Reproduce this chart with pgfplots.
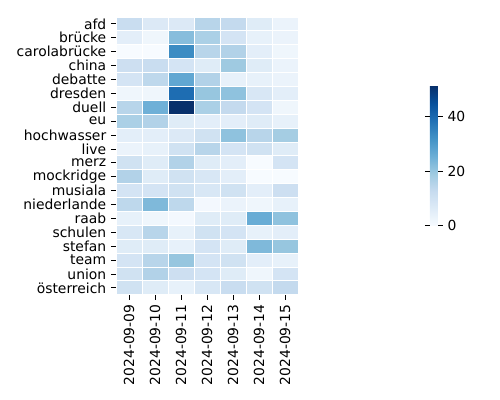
\documentclass[border=0pt]{standalone}
\usepackage{pgfplots}
\usepackage{pgfplotstable}
\pgfplotsset{compat=1.18}
\usepackage{fontspec}
\setmainfont{DejaVu Sans}
\pgfplotsset{
  colormap={blues}{rgb255=(247,251,255) rgb255=(222,235,247) rgb255=(198,219,239) rgb255=(158,202,225) rgb255=(107,174,214) rgb255=(66,146,198) rgb255=(33,113,181) rgb255=(8,81,156) rgb255=(8,48,107)}
}
\pgfplotstableread{
x y c
0 0 12
1 0 7
2 0 7
3 0 15
4 0 13
5 0 6
6 0 3
0 1 5
1 1 2
2 1 22
3 1 17
4 1 9
5 1 4
6 1 3
0 2 0
1 2 0
2 2 33
3 2 15
4 2 16
5 2 5
6 2 2
0 3 11
1 3 12
2 3 9
3 3 6
4 3 19
5 3 6
6 3 3
0 4 9
1 4 14
2 4 27
3 4 16
4 4 4
5 4 4
6 4 3
0 5 2
1 5 2
2 5 39
3 5 20
4 5 21
5 5 8
6 5 5
0 6 15
1 6 25
2 6 51
3 6 17
4 6 13
5 6 9
6 6 2
0 7 17
1 7 16
2 7 6
3 7 5
4 7 5
5 7 6
6 7 4
0 8 5
1 8 5
2 8 7
3 8 10
4 8 21
5 8 15
6 8 18
0 9 3
1 9 4
2 9 10
3 9 15
4 9 9
5 9 10
6 9 6
0 10 10
1 10 6
2 10 16
3 10 6
4 10 5
5 10 0
6 10 9
0 11 16
1 11 6
2 11 10
3 11 8
4 11 5
5 11 0
6 11 0
0 12 9
1 12 9
2 12 10
3 12 8
4 12 10
5 12 5
6 12 11
0 13 14
1 13 23
2 13 14
3 13 1
4 13 3
5 13 2
6 13 4
0 14 4
1 14 2
2 14 1
3 14 6
4 14 6
5 14 26
6 14 21
0 15 8
1 15 15
2 15 4
3 15 10
4 15 9
5 15 4
6 15 5
0 16 6
1 16 6
2 16 4
3 16 9
4 16 6
5 16 23
6 16 20
0 17 9
1 17 15
2 17 20
3 17 9
4 17 10
5 17 5
6 17 4
0 18 10
1 18 16
2 18 11
3 18 9
4 18 6
5 18 2
6 18 9
0 19 10
1 19 6
2 19 4
3 19 8
4 19 12
5 19 10
6 19 13
}\data
\begin{document}
\begin{tikzpicture}
\begin{axis}[
  name=main,
  scale only axis,
  width=131pt, height=200pt,
  xmin=-0.5, xmax=6.5, ymin=-0.5, ymax=19.5,
  y dir=reverse,
  enlargelimits=false,
  axis line style={draw=none},
  tick align=outside,
  xtick pos=bottom, ytick pos=left,
  major tick length=3.5pt,
  tick style={black, line width=0.6pt},
  xtick={0,...,6},
  xticklabels={2024-09-09,2024-09-10,2024-09-11,2024-09-12,2024-09-13,2024-09-14,2024-09-15},
  xticklabel style={rotate=90, anchor=east, font=\fontsize{10}{12}\selectfont},
  ytick={0,...,19},
  yticklabels={afd,brücke,carolabrücke,china,debatte,dresden,duell,eu,hochwasser,live,merz,mockridge,musiala,niederlande,raab,schulen,stefan,team,union,österreich},
  yticklabel style={font=\fontsize{10}{12}\selectfont},
  colormap name=blues,
  point meta min=0, point meta max=51,
  colorbar,
  colorbar style={
    at={(parent axis.east)}, anchor=west, xshift=86.3pt,
    width=5.8pt, height=100.8pt,
    ytick={0,20,40},
    axis line style={draw=none},
    tick align=outside,
    major tick length=3.5pt,
    tick style={black, line width=0.6pt},
    /pgf/number format/assume math mode=true,
    yticklabel style={font=\fontsize{10}{12}\selectfont},
  },
]
\addplot[matrix plot*, mesh/cols=7, point meta=explicit, draw=white, line width=0.6pt] table[x=x, y=y, meta=c] {\data};
\end{axis}
\path ([shift={(-83.5pt,-75.6pt)}]main.south west) rectangle ([shift={(145.4pt,12.2pt)}]main.north east);
\end{tikzpicture}
\end{document}
